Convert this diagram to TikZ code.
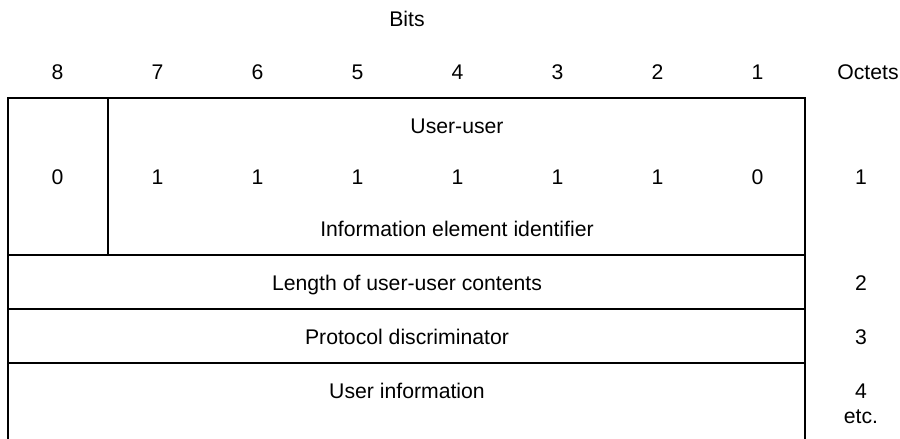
\documentclass[tikz,border=0pt]{standalone}
\usepackage{fontspec}
\setmainfont{Liberation Sans}
\begin{document}
\begin{tikzpicture}[x=1pt,y=-1pt,
  lbl/.style={anchor=base,inner sep=0pt,font=\fontsize{21.2}{25}\selectfont},
  frame/.style={line width=2pt,line join=miter}]
\useasboundingbox (0,0) rectangle (900,439);
% frame coordinates
\coordinate (bl) at (8,441);
\coordinate (tl) at (8,98);
\coordinate (tr) at (805,98);
\coordinate (br) at (805,441);
\coordinate (l1) at (8,255);  \coordinate (r1) at (805,255);
\coordinate (l2) at (8,309);  \coordinate (r2) at (805,309);
\coordinate (l3) at (8,363);  \coordinate (r3) at (805,363);
\coordinate (dt) at (108,98); \coordinate (db) at (108,255);
\draw[frame] (bl) -- (tl) -- (tr) -- (br);
\draw[frame] (l1) -- (r1);
\draw[frame] (l2) -- (r2);
\draw[frame] (l3) -- (r3);
\draw[frame] (dt) -- (db);
% header
\node[lbl] (bits) at (407,27) {Bits};
\foreach \b [count=\i from 0] in {8,7,6,5,4,3,2,1}
  \node[lbl] (h\b) at (57.5+100*\i,79) {\b};
\node[lbl] (octets) at (868,79) {Octets};
% octet 1
\node[lbl] (uu) at (457,133) {User-user};
\foreach \v [count=\i from 0] in {0,1,1,1,1,1,1,0}
  \node[lbl] (v\i) at (57.5+100*\i,184) {\v};
\node[lbl] (iei) at (457,236) {Information element identifier};
\node[lbl] (o1) at (861,184) {1};
% octet 2
\node[lbl] (len) at (407,290) {Length of user-user contents};
\node[lbl] (o2) at (861,290) {2};
% octet 3
\node[lbl] (pd) at (407,344) {Protocol discriminator};
\node[lbl] (o3) at (861,344) {3};
% octet 4
\node[lbl] (ui) at (407,398) {User information};
\node[lbl] (o4) at (861,398) {4};
\node[lbl] (etc) at (861,423) {etc.};
\end{tikzpicture}
\end{document}
